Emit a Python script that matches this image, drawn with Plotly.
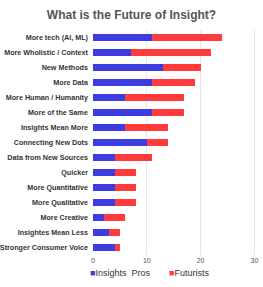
import plotly.graph_objects as go

categories = ["More tech (AI, ML)", "More Wholistic / Context", "New Methods", "More Data",
              "More Human / Humanity", "More of the Same", "Insights Mean More",
              "Connecting New Dots", "Data from New Sources", "Quicker", "More Quantitative",
              "More Qualitative", "More Creative", "Insightes Mean Less", "Stronger Consumer Voice"]
insights_pros = [11, 7, 13, 11, 6, 11, 6, 10, 4, 4, 4, 4, 2, 3, 4]
futurists = [13, 15, 7, 8, 11, 6, 8, 4, 7, 4, 4, 4, 4, 2, 1]
tick_vals = [0, 10, 20, 30]
series_names = ["Insights  Pros", "Futurists"]
series_colors = ["#3c3ce0", "#ff3b3b"]

fig = go.Figure()
for vals, name, col in zip([insights_pros, futurists], series_names, series_colors):
    fig.add_trace(go.Bar(y=categories, x=vals, name=name, orientation="h",
                         marker=dict(color=col, line=dict(width=0)), showlegend=False))
# legend-only entries with small square glyphs, one legend per series
for name, col, leg in zip(series_names, series_colors, ["legend", "legend2"]):
    fig.add_trace(go.Scatter(x=[None], y=[None], mode="markers",
                             name=f"<span style='color:{col}'>■</span>{name}",
                             marker=dict(color="rgba(0,0,0,0)", size=1,
                                         line=dict(width=0)),
                             showlegend=True, legend=leg))

leg_common = dict(orientation="h", xanchor="left", xref="container", yref="container",
                  y=-0.045, yanchor="bottom",
                  font=dict(size=9, color="#333333"), itemwidth=30,
                  bgcolor="rgba(0,0,0,0)")

fig.update_layout(
    width=263, height=287,
    barmode="stack", bargap=0.52,
    paper_bgcolor="white", plot_bgcolor="white",
    margin=dict(l=93, r=7, t=30, b=32, autoexpand=False),
    title=dict(text="<b>What is the Future of Insight?</b>", x=0.5, xanchor="center",
               y=0.95, yanchor="middle",
               font=dict(family="Liberation Sans, Arial", size=12, color="#555555")),
    font=dict(family="Liberation Sans, Arial", size=8, color="#444444"),
    xaxis=dict(range=[0, 30.3], tickvals=tick_vals, showgrid=True, gridcolor="#e6e6e6",
               gridwidth=1, zeroline=False, showline=False, ticks="",
               tickfont=dict(size=7, color="#555555")),
    yaxis=dict(autorange="reversed", showgrid=False, ticks="", ticklen=0, automargin=False,
               tickfont=dict(size=7.2, color="#333333", weight="bold"),
               ticklabelstandoff=4),
    legend=dict(x=50 / 263, **leg_common),
    legend2=dict(x=129 / 263, **leg_common),
    showlegend=True,
)

fig.write_html("out.html")
